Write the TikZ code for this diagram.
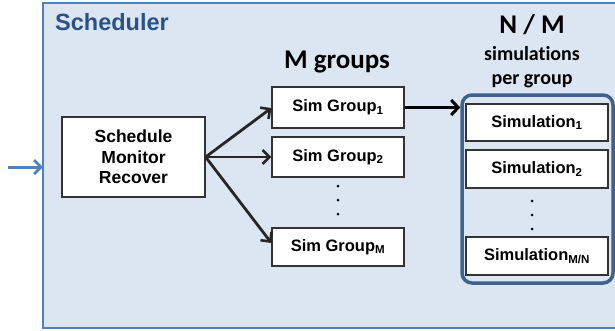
\documentclass[tikz,border=0pt]{standalone}
\usepackage{fontspec}
\setmainfont{Liberation Sans}
\newfontfamily\calib[RawFeature=-liga]{Carlito}
\usetikzlibrary{arrows.meta,positioning,calc}
\definecolor{bgblue}{HTML}{DCE6F2}
\definecolor{edgeblue}{HTML}{4F81BD}
\definecolor{titleblue}{HTML}{2A5286}
\definecolor{contblue}{HTML}{3E618D}
\definecolor{arrowgray}{HTML}{262626}
\tikzset{
  box/.style={draw=black!80, line width=1.2pt, fill=white, inner sep=0pt, align=center, font=\fontsize{16.5}{20}\selectfont\bfseries},
  conn/.style={draw=arrowgray, line width=2.8pt, -{Straight Barb[length=7pt,width=14pt,line width=2.6pt]}},
  heading/.style={font=\calib\bfseries, text=black, inner sep=0pt},
  dot/.style={circle, fill=black, inner sep=0pt, minimum size=3pt}
}
\begin{document}
\begin{tikzpicture}[x=1pt,y=-1pt]
\useasboundingbox (0,0) rectangle (615,330);
% outer scheduler box
\draw[draw=edgeblue, line width=1.3pt, fill=bgblue] (43,3) rectangle (630,328);
\coordinate (schedin) at (43,167);
\coordinate (src) at (8,167);
\node[anchor=west, inner sep=0pt, text=titleblue, font=\fontsize{23.5}{26}\selectfont\bfseries] (title) at (55,22) {Scheduler};
% input arrow
\draw[draw=edgeblue, line width=3pt, -{Straight Barb[length=7pt,width=14pt,line width=2.8pt]}] (src) -- (schedin);
% main box
\node[box, minimum width=143pt, minimum height=80pt, font=\fontsize{17.5}{20.5}\selectfont\bfseries] (smr) at (133.5,157) {Schedule\\Monitor\\Recover};
% groups heading
\node[heading, font=\calib\bfseries\fontsize{27}{30}\selectfont] (mg) at (337,62) {M groups};
% group boxes
\node[box, minimum width=132pt, minimum height=41pt] (g1) at (338,107.5) {Sim Group\textsubscript{1}};
\node[box, minimum width=132pt, minimum height=40pt] (g2) at (338,157) {Sim Group\textsubscript{2}};
\node[box, minimum width=132pt, minimum height=38pt] (gm) at (338,247) {Sim Group\textsubscript{M}};
\node[dot] (gd1) at (338,186) {};
\node[dot] (gd2) at (338,200) {};
\node[dot] (gd3) at (338,214) {};
% NM heading
\node[heading, font=\calib\bfseries\fontsize{27}{30}\selectfont] (nm) at (532,25) {N / M};
\node[heading, font=\calib\bfseries\fontsize{20}{24}\selectfont, align=center] (spg) at (532,67) {simulations\\per group};
% container
\node[draw=contblue, line width=3.5pt, rounded corners=10pt, minimum width=151pt, minimum height=188pt, inner sep=0pt] (cont) at (537.5,189) {};
% simulation boxes
\node[box, minimum width=142pt, minimum height=37pt] (s1) at (537,122.5) {Simulation\textsubscript{1}};
\node[box, minimum width=142pt, minimum height=38pt] (s2) at (537,169) {Simulation\textsubscript{2}};
\node[box, minimum width=142pt, minimum height=38pt] (sn) at (537,256) {Simulation\textsubscript{M/N}};
\node[dot] (sd1) at (532,201) {};
\node[dot] (sd2) at (532,215) {};
\node[dot] (sd3) at (532,229) {};
% connectors
\draw[conn] (smr.east) -- ([yshift=-0.5pt]g1.west);
\draw[conn] (smr.east) -- (g2.west);
\draw[conn] (smr.east) -- ([yshift=4pt]gm.west);
\draw[conn, draw=black, line width=3.2pt, -{Straight Barb[length=7pt,width=15pt,line width=3pt]}] (g1.east) -- (g1.east -| cont.west);
\end{tikzpicture}
\end{document}
